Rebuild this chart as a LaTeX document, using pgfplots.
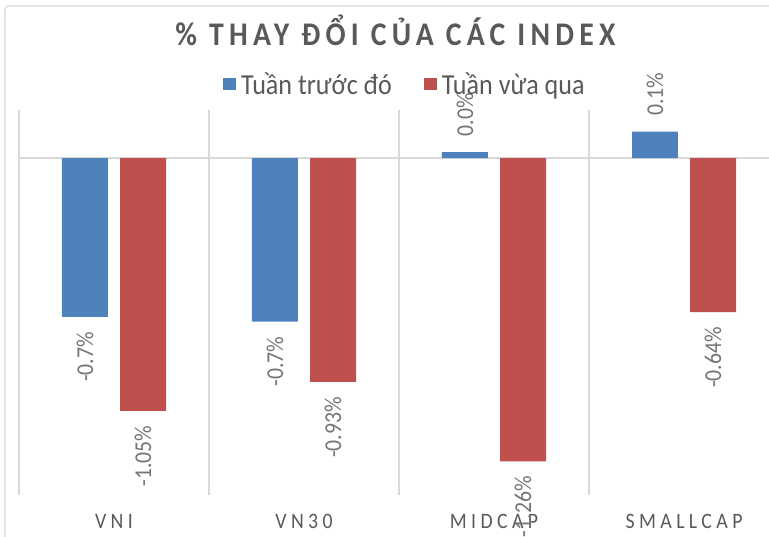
\documentclass[border=0pt]{standalone}
\usepackage{fontspec}
\setmainfont{Carlito}[FakeStretch=0.9]
\newfontfamily\titlefont{Carlito}[FakeStretch=0.9,LetterSpace=16]
\newfontfamily\catfont{Carlito}[FakeStretch=0.9,LetterSpace=20]
\usepackage{pgfplots}
\pgfplotsset{compat=1.18}

\definecolor{cBlue}{HTML}{4F81BD}
\definecolor{cRed}{HTML}{C0504D}
\definecolor{cText}{HTML}{595959}
\definecolor{cLabel}{HTML}{757575}
\definecolor{cGrid}{HTML}{D9D9D9}

\pgfplotsset{
  legsq/.style={legend image code/.code={\fill[##1, draw=none] (0pt,-6pt) rectangle (13pt,6pt);}},
  below/.style={every node near coord/.append style={anchor=east, outer sep=15pt}},
  above/.style={every node near coord/.append style={anchor=west, outer sep=16pt}},
  % labels are not moved with bar shift, so move them by hand (rotated frame)
  leftbar/.style={every node near coord/.append style={yshift=29pt}},
  rightbar/.style={every node near coord/.append style={yshift=-29pt}},
}

\begin{document}
\begin{tikzpicture}
\path[use as bounding box] (0,0) rectangle (769pt,536pt);
\draw[cGrid, line width=1.2pt, rounded corners=3pt] (5pt,-20pt) |- (800pt,530pt);
\begin{axis}[
  at={(19pt,41pt)}, anchor=south west,
  scale only axis, width=750pt, height=385pt,
  xmin=-0.5, xmax=3.447, ymin=-1.4, ymax=0.2,
  axis line style={draw=none},
  xtick={0,1,2,3},
  xticklabels={VNI,VN30,MIDCAP,SMALLCAP},
  major tick length=0pt, minor tick length=0pt,
  minor xtick={-0.5,0.5,1.5,2.5},
  xminorgrids,
  minor grid style={cGrid, line width=1.3pt},
  ytick=\empty,
  extra y ticks={0}, extra y tick labels={},
  extra y tick style={grid=major, major grid style={cGrid, line width=1.6pt}},
  xticklabel style={font=\catfont\fontsize{22}{24}\selectfont, text=cText, anchor=base, yshift=-34pt},
  title={\% THAY ĐỔI CỦA CÁC INDEX},
  title style={font=\titlefont\bfseries\fontsize{33}{36}\selectfont, text=cText, at={(0.502,1.153)}, anchor=base},
  legend columns=2,
  legend style={draw=none, fill=none, at={(0.272,1.0676)}, anchor=base west,
    font=\fontsize{29}{31}\selectfont, text=cText, inner sep=0pt, nodes={inner sep=0pt},
    /tikz/every even column/.append style={column sep=32pt},
    /tikz/every odd column/.append style={column sep=5pt}},
  point meta=explicit symbolic,
  nodes near coords,
  every node near coord/.append style={rotate=90, font=\fontsize{24.2}{26}\selectfont, text=cLabel, inner sep=0pt},
]
\addplot[ybar, bar width=0.242, bar shift=-0.153, fill=cBlue, draw=none, legsq, below, leftbar]
  coordinates {(0,-0.66) [-0.7\%] (1,-0.68) [-0.7\%]};
\addlegendentry{Tuần trước đó}
\addplot[ybar, bar width=0.242, bar shift=-0.153, fill=cBlue, draw=none, forget plot, above, leftbar]
  coordinates {(2,0.025) [0.0\%] (3,0.11) [0.1\%]};
\addplot[ybar, bar width=0.242, bar shift=0.153, fill=cRed, draw=none, legsq, below, rightbar]
  coordinates {(0,-1.05) [-1.05\%] (1,-0.93) [-0.93\%] (2,-1.26) [-1.26\%] (3,-0.64) [-0.64\%]};
\addlegendentry{Tuần vừa qua}
\end{axis}
\end{tikzpicture}
\end{document}
